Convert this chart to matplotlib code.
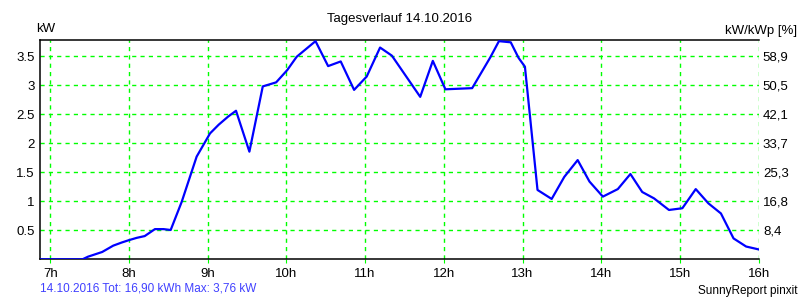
import matplotlib
matplotlib.use("Agg")
import matplotlib.pyplot as plt

plt.rcParams.update({
    "font.size": 9.5,
    "font.family": ["Liberation Sans", "DejaVu Sans"],
})

# time of day (decimal hours) and power (kW)
hours = [6.87, 7.41, 7.48, 7.66, 7.80, 7.91, 8.00, 8.10, 8.20, 8.33,
         8.44, 8.53, 8.67, 8.86, 9.03, 9.14, 9.26, 9.36, 9.53, 9.70,
         9.87, 10.01, 10.13, 10.37, 10.53, 10.69, 10.86, 11.02, 11.19, 11.34,
         11.70, 11.86, 12.02, 12.36, 12.59, 12.70, 12.85, 12.95, 13.03, 13.19,
         13.37, 13.53, 13.70, 13.85, 14.02, 14.21, 14.37, 14.52, 14.67, 14.86,
         15.03, 15.20, 15.36, 15.52, 15.68, 15.84, 16.00]
power = [0.0, 0.0, 0.045, 0.126, 0.235, 0.29, 0.33, 0.37, 0.40, 0.52,
         0.52, 0.505, 0.99, 1.77, 2.17, 2.32, 2.46, 2.56, 1.855, 2.98,
         3.05, 3.26, 3.49, 3.76, 3.33, 3.41, 2.92, 3.15, 3.65, 3.51,
         2.80, 3.42, 2.93, 2.95, 3.48, 3.76, 3.74, 3.47, 3.32, 1.195,
         1.04, 1.42, 1.71, 1.34, 1.08, 1.21, 1.47, 1.16, 1.05, 0.85,
         0.88, 1.21, 0.965, 0.79, 0.36, 0.22, 0.17]

hour_ticks = [7, 8, 9, 10, 11, 12, 13, 14, 15, 16]
hour_labels = ["7h", "8h", "9h", "10h", "11h", "12h", "13h", "14h", "15h", "16h"]
kw_ticks = [0.5, 1, 1.5, 2, 2.5, 3, 3.5]
kw_labels = ["0.5", "1", "1.5", "2", "2.5", "3", "3.5"]
pct_labels = ["8,4", "16,8", "25,3", "33,7", "42,1", "50,5", "58,9"]

fig = plt.figure(figsize=(8, 3), dpi=100)
ax = fig.add_axes([0.05, 0.1357, 0.8984, 0.731])

ax.plot(hours, power, color="#0000ff", linewidth=1.6, zorder=3)

ax.set_xlim(6.87, 16.0)
ax.set_ylim(0, 3.78)
ax.set_xticks(hour_ticks)
ax.set_xticklabels(hour_labels)
ax.set_yticks(kw_ticks)
ax.set_yticklabels(kw_labels)
ax.tick_params(axis="x", length=3, pad=3, direction="out", color="#00ff00")
ax.tick_params(axis="y", length=0, pad=4)
ax.grid(True, color="#00ff00", linestyle=(0, (3, 3)), linewidth=1.0)

ax.spines["right"].set_visible(False)
for s in ("left", "bottom", "top"):
    ax.spines[s].set_linewidth(1.1)
    ax.spines[s].set_color("black")

ax2 = ax.twinx()
ax2.set_ylim(ax.get_ylim())
ax2.set_yticks(kw_ticks)
ax2.set_yticklabels(pct_labels)
ax2.tick_params(axis="y", length=0, pad=3)
for s in ax2.spines.values():
    s.set_visible(False)

fig.text(0.5, 0.937, "Tagesverlauf 14.10.2016", ha="center", va="center")
fig.text(0.045, 0.905, "kW", ha="left", va="center")
fig.text(0.997, 0.897, "kW/kWp [%]", ha="right", va="center")
fig.text(0.05, 0.038, "14.10.2016 Tot: 16,90 kWh Max: 3,76 kW",
         ha="left", va="center", color="#4040ff", fontsize=8.5)
fig.text(0.997, 0.03, "SunnyReport pinxit", ha="right", va="center", fontsize=8.5)

fig.savefig("out.png", dpi=100)
